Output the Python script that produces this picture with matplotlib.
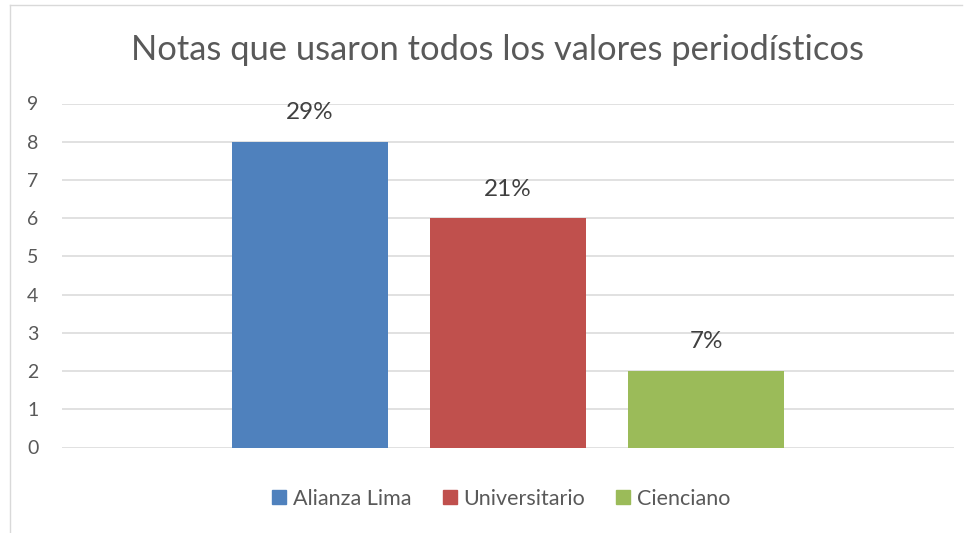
import matplotlib
matplotlib.use("Agg")
import matplotlib.pyplot as plt
from matplotlib.lines import Line2D

series_names = ["Alianza Lima", "Universitario", "Cienciano"]
values = [8, 6, 2]
labels = ["29%", "21%", "7%"]
colors = ["#4F81BD", "#C0504D", "#9BBB59"]
yticks = list(range(0, 10))
title = "Notas que usaron todos los valores periodísticos"

W, H = 971, 533
fig = plt.figure(figsize=(W / 100, H / 100), dpi=100)
fig.patch.set_facecolor("white")
font = ["Lato", "DejaVu Sans"]

ax_l, ax_r, ax_t, ax_b = 62, 954, 103.5, 447.5
ax = fig.add_axes([ax_l / W, (H - ax_b) / H, (ax_r - ax_l) / W, (ax_b - ax_t) / H])

step = 198.0
bw = 156.0 / step
positions = [-1, 0, 1]
for p, v, c, lab in zip(positions, values, colors, labels):
    ax.bar(p, v, width=bw, color=c, zorder=3)
    ax.annotate(lab, (p, v), xytext=(0, 21), textcoords="offset points",
                ha="center", va="center", fontsize=17.5, color="#404040", family=font)

half = (ax_r - ax_l) / step / 2
ax.set_xlim(-half, half)
ax.set_ylim(0, 9)
ax.set_yticks(yticks)
ax.set_yticklabels([str(t) for t in yticks], family=font, fontsize=14, color="#595959")
ax.set_xticks([])
ax.tick_params(axis="y", length=0, pad=17)
ax.grid(axis="y", color="#D9D9D9", linewidth=1.1, zorder=0)
for s in ax.spines.values():
    s.set_visible(False)

fig.text(497 / W, 1 - 50 / H, title, ha="center", va="center", fontsize=24.8,
         color="#595959", family=font)

# chart border (left and top visible)
fig.add_artist(Line2D([9.5 / W, 9.5 / W], [0, 1 - 4.5 / H], transform=fig.transFigure,
                      color="#D9D9D9", linewidth=1.0))
fig.add_artist(Line2D([9.5 / W, 962 / W], [1 - 4.5 / H, 1 - 4.5 / H], transform=fig.transFigure,
                      color="#D9D9D9", linewidth=1.0))

handles = [Line2D([], [], marker="s", linestyle="none", markersize=10,
                  markerfacecolor=c, markeredgecolor=c) for c in colors]
leg = fig.legend(handles, series_names, loc="center", bbox_to_anchor=(500 / W, 1 - 499 / H),
                 ncol=3, frameon=False, handletextpad=0.2, columnspacing=1.3,
                 handlelength=0.9, prop={"family": font, "size": 15.5})
for t in leg.get_texts():
    t.set_color("#595959")

fig.savefig("out.png", dpi=100, facecolor="white")
